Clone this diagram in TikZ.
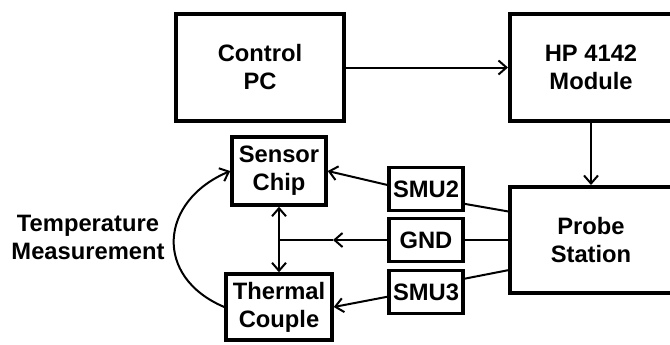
\documentclass[tikz,border=0pt]{standalone}
\usepackage{fontspec}
\setmainfont{Liberation Sans}
\usetikzlibrary{arrows.meta}
\tikzstyle{bigbox}=[draw, line width=3pt, minimum width=126pt, minimum height=80.25pt, inner sep=1pt, align=center]
\tikzstyle{smallbox}=[draw, line width=2.6pt, inner sep=1pt, align=center]
\tikzstyle{smubox}=[smallbox, minimum width=55.5pt, minimum height=32.25pt]
\tikzstyle{link}=[line width=1.5pt]

\begin{document}
\begin{tikzpicture}[x=0.75pt, y=-0.75pt, >={Straight Barb[length=6pt,width=10.5pt]},
	every node/.style={font=\bfseries\fontsize{17.8}{21}\selectfont}]
	\useasboundingbox (0,0) rectangle (670,344);
	% top row
	\node[bigbox] (pc) at (260,67.5) {Control\\PC};
	\node[bigbox, minimum width=121.5pt] (hp) at (591,67.5) {HP 4142\\Module};
	\node[bigbox, minimum width=121.5pt, minimum height=79.5pt] (probe) at (591,240) {Probe\\Station};
	% sensor side
	\node[smallbox, minimum width=70.5pt, minimum height=51pt] (sensor) at (279,171) {Sensor\\Chip};
	\node[smallbox, minimum width=79.5pt, minimum height=49.5pt] (thermal) at (279,307) {Thermal\\Couple};
	\node[smubox] (smu2) at (426,189) {SMU2};
	\node[smubox] (gnd) at (426,240) {GND};
	\node[smubox] (smu3) at (426,292) {SMU3};
	\node[align=center] (temp) at (88,237) {Temperature\\Measurement};
	\coordinate (junc) at (279,240);
	\coordinate (gndmid) at (333,240);
	% connectors
	\draw[link, ->] (pc) -- (hp);
	\draw[link, ->] (hp) -- (probe);
	\draw[link] (probe.161) -- (smu2.-21);
	\draw[link] (probe.west) -- (gnd.east);
	\draw[link] (probe.200) -- (smu3.19);
	\draw[link, ->] (smu2.174) -- (sensor.east);
	\draw[link, ->] (smu3.187) -- (thermal.east);
	\draw[link, ->] (gnd.west) -- (gndmid);
	\draw[link] (gndmid) -- (junc);
	\draw[link, <->] (sensor) -- (thermal);
	\draw[link, ->] (thermal.west) .. controls +(-71,-30) and +(-71,30) .. (sensor.west);
\end{tikzpicture}
\end{document}
